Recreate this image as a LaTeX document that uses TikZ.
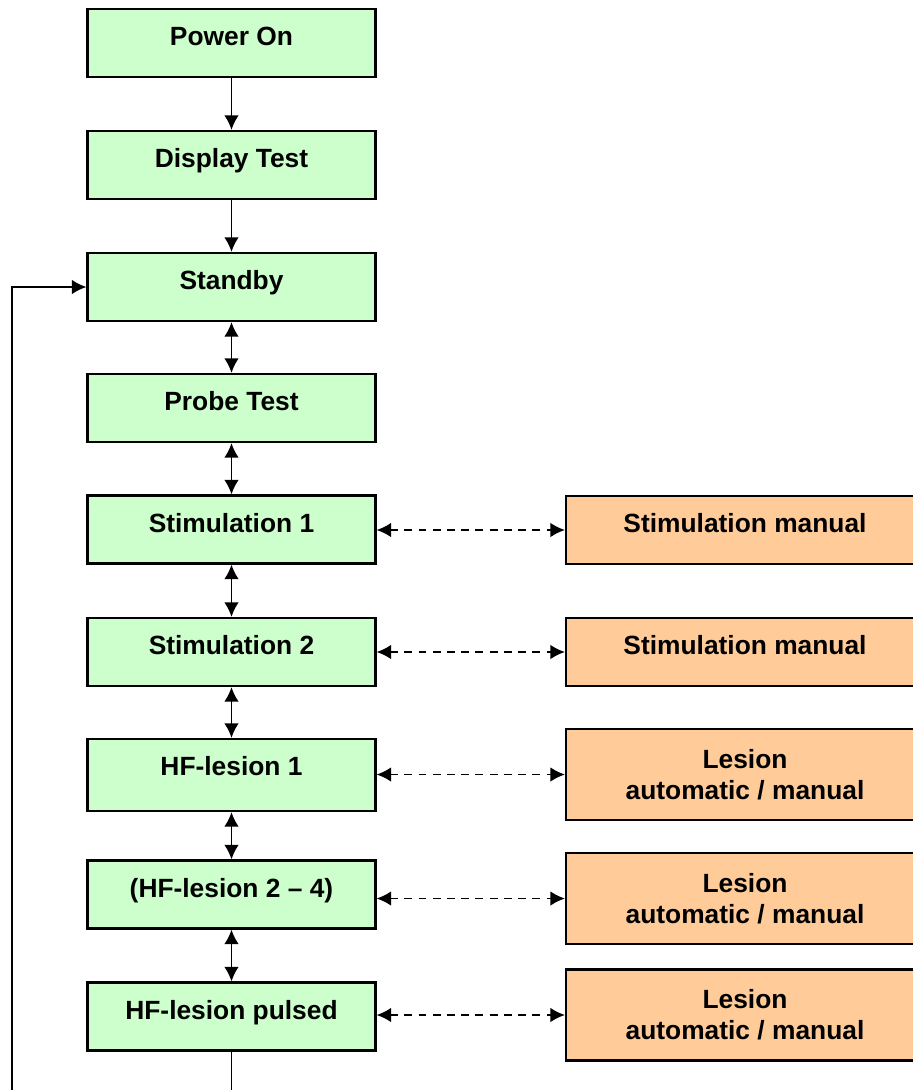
\documentclass[tikz,border=0pt]{standalone}
\usepackage{fontspec}
\setmainfont{Liberation Sans}
\usepackage{xcolor}
\usetikzlibrary{arrows.meta}

\definecolor{stategreen}{HTML}{CCFFCC}
\definecolor{modeorange}{HTML}{FFCC99}

\begin{document}
\begin{tikzpicture}[x=0.02cm, y=-0.02cm,
    >={Latex[length=0.29cm, width=0.29cm]},
    box/.style={rectangle, draw, line width=1.2pt, inner ysep=0pt,
      font=\bfseries\fontsize{15pt}{17.6pt}\selectfont},
    state/.style={box, fill=stategreen, minimum width=5.76cm,
      text height=0.73cm, text depth=0.63cm},
    manual/.style={box, fill=modeorange, minimum width=7.16cm,
      text height=0.73cm, text depth=0.63cm},
    lesion/.style={box, fill=modeorange, minimum width=7.16cm,
      minimum height=1.82cm, align=center},
    link/.style={line width=1.1pt},
    side/.style={link, <->, dash pattern=on 4.5pt off 3.6pt},
  ]
  \useasboundingbox (0,0) rectangle (913,1090);

  \node[state] (power) at (231.5,43) {Power On};
  \node[state] (display) at (231.5,165) {Display Test};
  \node[state] (standby) at (231.5,287) {Standby};
  \node[state] (probe) at (231.5,408) {Probe Test};
  \node[state] (stimA) at (231.5,529.5) {Stimulation 1};
  \node[state] (stimB) at (231.5,652) {Stimulation 2};
  \node[state, text depth=0.71cm] (hfA) at (231.5,775) {HF-lesion 1};
  \node[state] (hfB) at (231.5,894.5) {(HF-lesion 2 – 4)};
  \node[state] (pulsed) at (231.5,1016.5) {HF-lesion pulsed};

  \node[manual] (manA) at (745,530) {Stimulation manual};
  \node[manual] (manB) at (745,652) {Stimulation manual};
  \node[lesion] (lesA) at (745,774.5) {Lesion\\automatic / manual};
  \node[lesion] (lesB) at (745,898.5) {Lesion\\automatic / manual};
  \node[lesion] (lesC) at (745,1015) {Lesion\\automatic / manual};

  \draw[link, ->] (power) -- (display);
  \draw[link, ->] (display) -- (standby);
  \foreach \a/\b in {standby/probe, probe/stimA, stimA/stimB, stimB/hfA,
      hfA/hfB, hfB/pulsed}
    \draw[link, <->] (\a) -- (\b);

  \foreach \a/\b in {stimA/manA, stimB/manB, hfA/lesA, hfB/lesB, pulsed/lesC}
    \draw[side] (\b.west -| \a.east) -- (\b.west);

  % back to standby
  \coordinate (loopin) at (12,1090);
  \draw[link] (pulsed.south) -- (pulsed.south |- loopin);
  \draw[link, ->] (loopin) |- (standby.west);
\end{tikzpicture}
\end{document}
